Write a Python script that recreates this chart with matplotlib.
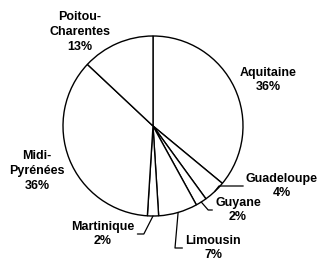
import numpy as np
import matplotlib
matplotlib.use("Agg")
import matplotlib.pyplot as plt

# dados
regions = ["Aquitaine", "Guadeloupe", "Guyane", "Limousin", "Martinique",
           "Midi-\nPyrénées", "Poitou-\nCharentes"]
shares = [36, 4, 2, 7, 2, 36, 13]

# layout (pixels da figura 320x264, centro da pizza em 153,126, raio 90)
CX, CY, R = 153, 126, 90
label_px = [(268, 80), (282, 186), (238, 210), (213, 248), (103, 234),
            (37, 171), (80, 32)]
leader = [False, True, True, True, True, False, False]
angle_b = [0, 52, 131, 85, 63, 0, 0]


def px(x, y):
    return (x - CX) / R, (CY - y) / R


plt.rcParams['font.family'] = ['Liberation Sans', 'DejaVu Sans']

fig = plt.figure(figsize=(3.2, 2.64), dpi=100)
ax = fig.add_axes([0, 0, 1, 1])
wedges, _ = ax.pie(shares, startangle=90, counterclock=False,
                   colors=["white"] * len(shares), radius=1,
                   wedgeprops=dict(edgecolor="black", linewidth=1.0))
ax.set_xlim(-CX / R, (320 - CX) / R)
ax.set_ylim(-(264 - CY) / R, CY / R)
ax.axis("off")

for w, name, val, pos, lead, ab in zip(wedges, regions, shares, label_px, leader, angle_b):
    txt = f"{name}\n{val}%"
    xt, yt = px(*pos)
    if lead:
        mid = np.deg2rad((w.theta1 + w.theta2) / 2)
        ax.annotate(txt, xy=(np.cos(mid), np.sin(mid)), xytext=(xt, yt),
                    ha="center", va="center", fontsize=9, fontweight="bold",
                    linespacing=1.3,
                    arrowprops=dict(arrowstyle="-", lw=0.9, color="black",
                                    shrinkA=0, shrinkB=0,
                                    connectionstyle=f"angle,angleA=0,angleB={ab},rad=0"))
    else:
        ax.text(xt, yt, txt, ha="center", va="center", fontsize=9,
                fontweight="bold", linespacing=1.3)

fig.savefig("out.png", dpi=100)
